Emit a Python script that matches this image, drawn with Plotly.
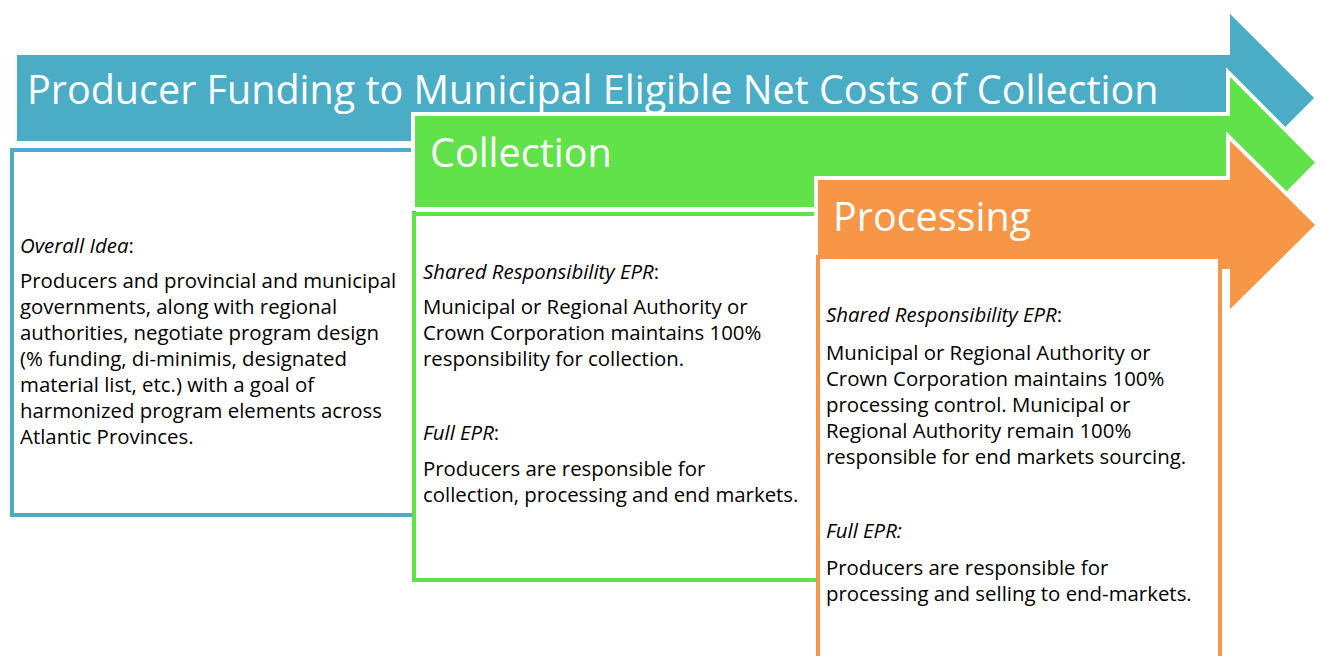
import plotly.graph_objects as go

# ---- content ----
stage_titles = ["Producer Funding to Municipal Eligible Net Costs of Collection", "Collection", "Processing"]
stage_colors = ["#4BACC6", "#62E24A", "#F79646"]

overall_lines = ["<i>Overall Idea</i>:",
                 "Producers and provincial and municipal",
                 "governments, along with regional",
                 "authorities, negotiate program design",
                 "(% funding, di-minimis, designated",
                 "material list, etc.) with a goal of",
                 "harmonized program elements across",
                 "Atlantic Provinces."]
overall_y = [245, 280, 306, 332, 358, 384, 410, 436]

collection_lines = ["<i>Shared Responsibility EPR</i>:",
                    "Municipal or Regional Authority or",
                    "Crown Corporation maintains 100%",
                    "responsibility for collection.",
                    "<i>Full EPR</i>:",
                    "Producers are responsible for",
                    "collection, processing and end markets."]
collection_y = [271, 306, 332, 358, 432, 468, 494]

processing_lines = ["<i>Shared Responsibility EPR</i>:",
                    "Municipal or Regional Authority or",
                    "Crown Corporation maintains 100%",
                    "processing control. Municipal or",
                    "Regional Authority remain 100%",
                    "responsible for end markets sourcing.",
                    "<i>Full EPR:</i>",
                    "Producers are responsible for",
                    "processing and selling to end-markets."]
processing_y = [314, 352, 378, 404, 430, 456, 530, 567, 593]

# ---- geometry (pixels) ----
# arrows: body left, body top, body bottom, head x, head top, tip x, head bottom
arrows = [
    (15, 53, 143, 1228, 9, 1317, 187),
    (413, 114, 209, 1228, 72, 1318, 253),
    (816, 178, 271, 1228, 136, 1318, 314),
]
# boxes: x0, y0, x1, y1
boxes = [
    (12, 150, 414, 515),
    (414, 214, 1220, 580),
    (818, 257, 1220, 700),
]
title_pos = [(25, 89), (428, 152), (831, 216)]
text_x = [18, 421, 824]

fig = go.Figure()
fig.add_trace(go.Scatter(x=[0, 1320], y=[0, 656], mode="markers",
                         marker=dict(opacity=0), hoverinfo="skip", showlegend=False))

shapes = []
for i in range(3):
    bl, bt, bb, hx, ht, tx, hb = arrows[i]
    tip_y = (ht + hb) / 2
    path = (f"M {bl},{bt} L {hx},{bt} L {hx},{ht} L {tx},{tip_y} L {hx},{hb} "
            f"L {hx},{bb} L {bl},{bb} Z")
    shapes.append(dict(type="path", path=path, xref="x", yref="y",
                       fillcolor=stage_colors[i], line=dict(color="white", width=4), layer="above"))
    x0, y0, x1, y1 = boxes[i]
    shapes.append(dict(type="rect", x0=x0, y0=y0, x1=x1, y1=y1, xref="x", yref="y",
                       fillcolor="white", line=dict(color=stage_colors[i], width=4), layer="above"))

annotations = []
font_family = "Open Sans, Lato, sans-serif"
for i in range(3):
    tx, ty = title_pos[i]
    annotations.append(dict(x=tx, y=ty, xref="x", yref="y", text=stage_titles[i],
                            showarrow=False, xanchor="left", yanchor="middle",
                            font=dict(family=font_family, size=39.5, color="white")))

for lines, ys, x in [(overall_lines, overall_y, text_x[0]),
                     (collection_lines, collection_y, text_x[1]),
                     (processing_lines, processing_y, text_x[2])]:
    for t, y in zip(lines, ys):
        annotations.append(dict(x=x, y=y, xref="x", yref="y", text=t, showarrow=False,
                                xanchor="left", yanchor="middle",
                                font=dict(family=font_family, size=20.4, color="black")))

fig.update_layout(
    width=1320, height=656,
    margin=dict(l=0, r=0, t=0, b=0),
    paper_bgcolor="white", plot_bgcolor="white",
    xaxis=dict(range=[0, 1320], visible=False, fixedrange=True),
    yaxis=dict(range=[656, 0], visible=False, fixedrange=True),
    shapes=shapes, annotations=annotations, showlegend=False,
)
fig.write_html("out.html", config={"displayModeBar": False},
               post_script="document.body.style.margin='0';document.body.style.overflow='hidden';")
